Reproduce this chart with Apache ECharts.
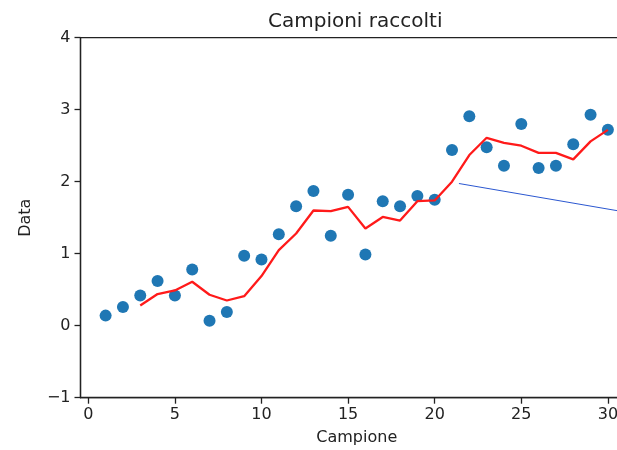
<!DOCTYPE html>
<html>
<head>
<meta charset="utf-8">
<script src="https://cdn.jsdelivr.net/npm/echarts@6/dist/echarts.min.js"></script>
<style>
  html, body { margin: 0; padding: 0; background: #fff; }
  #chart { width: 617px; height: 450px; }
</style>
</head>
<body>
<div id="chart"></div>
<script>
// Sample index (1..30) and the measured value for each sample
const campioni = [1, 2, 3, 4, 5, 6, 7, 8, 9, 10, 11, 12, 13, 14, 15,
                  16, 17, 18, 19, 20, 21, 22, 23, 24, 25, 26, 27, 28, 29, 30];
const valori = [0.14, 0.26, 0.42, 0.62, 0.42, 0.78, 0.07, 0.19, 0.97, 0.92,
                1.27, 1.66, 1.87, 1.25, 1.82, 0.99, 1.73, 1.66, 1.80, 1.75,
                2.44, 2.91, 2.48, 2.22, 2.80, 2.19, 2.22, 2.52, 2.93, 2.72];

// Moving average (window 3), starting from sample 3
const mediaX = [3, 4, 5, 6, 7, 8, 9, 10, 11, 12, 13, 14, 15, 16, 17,
                18, 19, 20, 21, 22, 23, 24, 25, 26, 27, 28, 29, 30];
const mediaY = [0.28, 0.44, 0.49, 0.61, 0.43, 0.35, 0.41, 0.69, 1.05, 1.28,
                1.60, 1.59, 1.65, 1.35, 1.51, 1.46, 1.73, 1.74, 2.00, 2.37,
                2.61, 2.54, 2.50, 2.40, 2.40, 2.31, 2.56, 2.72];

// Trend segment
const trendX = [21.4, 31.45];
const trendY = [1.975, 1.56];

const xTicks = [0, 5, 10, 15, 20, 25, 30];

const zip = (a, b) => a.map((v, i) => [v, b[i]]);

const FONT = 'DejaVu Sans';
const chart = echarts.init(document.getElementById('chart'), null, { renderer: 'canvas' });

chart.setOption({
  animation: false,
  backgroundColor: '#ffffff',
  title: {
    text: 'Campioni raccolti',
    left: 268,
    top: 12,
    padding: 0,
    textStyle: { fontFamily: FONT, fontSize: 20, fontWeight: 'normal', color: '#222' }
  },
  grid: {
    left: 80.5,
    top: 37.7,
    width: 552.5,
    height: 360,
    outerBoundsMode: 'none',
    containLabel: false,
    show: true,
    borderColor: '#222',
    borderWidth: 1.3,
    backgroundColor: 'transparent'
  },
  xAxis: {
    type: 'value',
    min: -0.45,
    max: 31.45,
    name: 'Campione',
    nameLocation: 'middle',
    nameGap: 32,
    nameTextStyle: { fontFamily: FONT, fontSize: 16, color: '#222' },
    splitLine: { show: false },
    axisLine: { show: true, onZero: false, lineStyle: { color: '#222', width: 1.3 } },
    axisTick: { show: true, inside: false, length: 6, customValues: xTicks,
                lineStyle: { color: '#222', width: 1.3 } },
    axisLabel: { customValues: xTicks, margin: 9, fontFamily: FONT, fontSize: 16, color: '#222' }
  },
  yAxis: {
    type: 'value',
    min: -1,
    max: 4,
    interval: 1,
    name: 'Data',
    nameLocation: 'middle',
    nameGap: 47,
    nameTextStyle: { fontFamily: FONT, fontSize: 16, color: '#222' },
    splitLine: { show: false },
    axisLine: { show: true, onZero: false, lineStyle: { color: '#222', width: 1.3 } },
    axisTick: { show: true, inside: false, length: 6, lineStyle: { color: '#222', width: 1.3 } },
    axisLabel: {
      margin: 10, fontFamily: FONT, fontSize: 16, color: '#222',
      formatter: v => (v < 0 ? '\u2212' + Math.abs(v) : String(v))
    }
  },
  series: [
    {
      type: 'scatter',
      data: zip(campioni, valori),
      symbol: 'circle',
      symbolSize: 12,
      itemStyle: { color: '#1f77b4', opacity: 1 },
      z: 2
    },
    {
      type: 'line',
      data: zip(mediaX, mediaY),
      showSymbol: false,
      symbol: 'none',
      lineStyle: { color: '#ff1a1a', width: 2.3 },
      z: 3
    },
    {
      type: 'line',
      data: zip(trendX, trendY),
      showSymbol: false,
      symbol: 'none',
      lineStyle: { color: '#2b57d0', width: 1 },
      z: 3
    }
  ]
});
</script>
</body>
</html>
